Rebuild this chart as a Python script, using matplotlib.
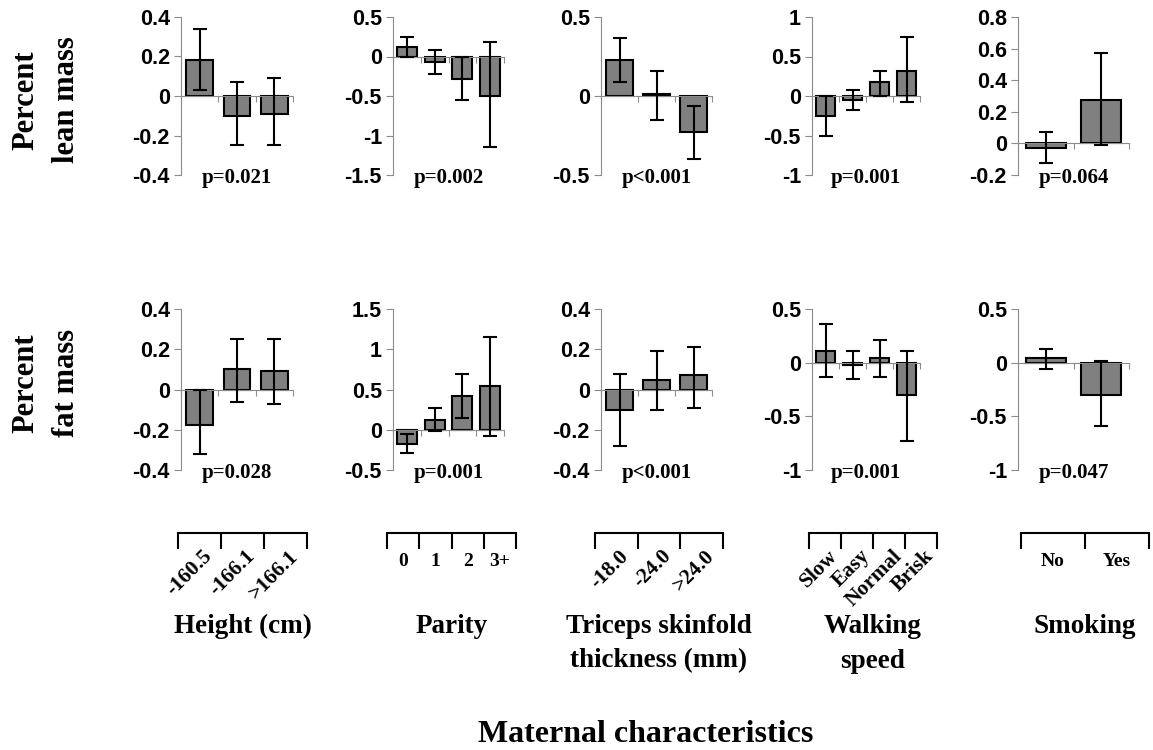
import numpy as np
import matplotlib
matplotlib.use('Agg')
from matplotlib import pyplot as plt

# groups (columns) and their categories
groups = ['Height (cm)', 'Parity', 'Triceps skinfold\nthickness (mm)', 'Walking\nspeed', 'Smoking']
cats = [['-160.5', '-166.1', '>166.1'],
        ['0', '1', '2', '3+'],
        ['-18.0', '-24.0', '>24.0'],
        ['Slow', 'Easy', 'Normal', 'Brisk'],
        ['No', 'Yes']]
rotated = [True, False, True, True, False]

# percent lean mass: estimate, lower and upper CI
lean_val = [[0.18, -0.10, -0.09], [0.12, -0.07, -0.28, -0.50], [0.225, 0.01, -0.23],
            [-0.25, -0.05, 0.18, 0.32], [-0.03, 0.275]]
lean_lo = [[0.03, -0.25, -0.25], [0.0, -0.225, -0.55, -1.15], [0.09, -0.15, -0.40],
           [-0.50, -0.18, 0.0, -0.07], [-0.125, -0.01]]
lean_hi = [[0.34, 0.07, 0.09], [0.25, 0.08, 0.0, 0.18], [0.37, 0.16, -0.065],
           [0.0, 0.08, 0.32, 0.75], [0.075, 0.575]]
lean_p = ['p=0.021', 'p=0.002', 'p<0.001', 'p=0.001', 'p=0.064']
lean_ylim = [(-0.4, 0.4), (-1.5, 0.5), (-0.5, 0.5), (-1, 1), (-0.2, 0.8)]
lean_step = [0.2, 0.5, 0.5, 0.5, 0.2]

# percent fat mass
fat_val = [[-0.175, 0.10, 0.09], [-0.175, 0.12, 0.42, 0.54], [-0.10, 0.045, 0.07],
           [0.11, -0.02, 0.04, -0.30], [0.04, -0.30]]
fat_lo = [[-0.32, -0.06, -0.07], [-0.29, -0.02, 0.14, -0.08], [-0.28, -0.10, -0.09],
          [-0.13, -0.15, -0.13, -0.73], [-0.055, -0.59]]
fat_hi = [[0.0, 0.25, 0.25], [-0.05, 0.265, 0.69, 1.15], [0.075, 0.19, 0.21],
          [0.36, 0.11, 0.21, 0.11], [0.125, 0.02]]
fat_p = ['p=0.028', 'p=0.001', 'p<0.001', 'p=0.001', 'p=0.047']
fat_ylim = [(-0.4, 0.4), (-0.5, 1.5), (-0.4, 0.4), (-1, 0.5), (-1, 0.5)]
fat_step = [0.2, 0.5, 0.2, 0.5, 0.5]

W, H = 1153, 750
serif = 'Liberation Serif'
sans = 'Liberation Sans'

fig = plt.figure(figsize=(W / 100, H / 100), dpi=100)


def px_axes(x0, y0, x1, y1):
    return fig.add_axes([x0 / W, 1 - y1 / H, (x1 - x0) / W, (y1 - y0) / H])


ax_x = [(181, 293), (393, 504), (601, 712), (812, 920), (1018, 1129)]
rows = [((17, 175), lean_val, lean_lo, lean_hi, lean_p, lean_ylim, lean_step),
        ((309, 470), fat_val, fat_lo, fat_hi, fat_p, fat_ylim, fat_step)]

for (y0, y1), vals, los, his, ps, ylims, steps in rows:
    for j in range(5):
        ax = px_axes(ax_x[j][0], y0, ax_x[j][1], y1)
        v = np.array(vals[j])
        n = len(v)
        x = np.arange(n)
        err = [v - np.array(los[j]), np.array(his[j]) - v]
        ax.bar(x, v, width=0.72, color='#808080', edgecolor='black', linewidth=1.5, zorder=2)
        ax.errorbar(x, v, yerr=err, fmt='none', ecolor='black', elinewidth=1.5,
                    capsize=5, capthick=1.5, zorder=3)
        ax.set_xlim(-0.5, n - 0.5)
        lo, hi = ylims[j]
        ax.set_ylim(lo, hi)
        ax.set_yticks(np.arange(lo, hi + 1e-9, steps[j]))
        ax.set_yticklabels(['%g' % round(t, 2) for t in ax.get_yticks()])
        for s in ['top', 'right']:
            ax.spines[s].set_visible(False)
        ax.spines['left'].set_color('#8c8c8c')
        ax.spines['bottom'].set_color('#8c8c8c')
        ax.spines['bottom'].set_position(('data', 0))
        ax.set_xticks(np.arange(n + 1) - 0.5)
        ax.set_xticklabels([])
        ax.tick_params(axis='x', direction='out', length=4, color='#8c8c8c')
        ax.tick_params(axis='y', direction='out', length=5, color='#8c8c8c', pad=3)
        for t in ax.get_yticklabels():
            t.set_fontfamily(sans)
            t.set_fontweight('bold')
            t.set_fontsize(15.5)
        ax.patch.set_alpha(0)
        ax.text(0.5, -0.02, ps[j], transform=ax.transAxes, ha='center', va='center',
                fontfamily=serif, fontweight='bold', fontsize=15)

# row labels
fig.text(46 / W, 1 - 100 / H, 'Percent\nlean mass', rotation=90, ha='center', va='center',
         fontfamily=serif, fontweight='bold', fontsize=22, linespacing=1.55)
fig.text(46 / W, 1 - 383 / H, 'Percent\nfat mass', rotation=90, ha='center', va='center',
         fontfamily=serif, fontweight='bold', fontsize=22, linespacing=1.55)

# category brackets
br_x = [(178, 307), (387, 516), (595, 723), (809, 937), (1021, 1149)]
for j in range(5):
    bx = px_axes(br_x[j][0], 533, br_x[j][1], 549)
    n = len(cats[j])
    bx.set_xlim(0, n)
    bx.set_ylim(0, 1)
    for s in ['left', 'right', 'bottom']:
        bx.spines[s].set_visible(False)
    bx.spines['top'].set_linewidth(1.5)
    bx.set_xticks(np.arange(n + 1))
    bx.set_xticklabels([])
    bx.set_yticks([])
    bx.tick_params(axis='x', top=True, bottom=False, direction='in', length=11.5, width=1.5)
    bx.patch.set_alpha(0)
    for i, c in enumerate(cats[j]):
        if rotated[j]:
            bx.annotate(c, xy=(i + 0.5, 0), xycoords=('data', 'axes fraction'),
                        xytext=(7, -3), textcoords='offset points', rotation=45,
                        rotation_mode='anchor', ha='right', va='center',
                        fontfamily=serif, fontweight='bold', fontsize=15.5)
        else:
            bx.annotate(c, xy=(i + 0.5, 0), xycoords=('data', 'axes fraction'),
                        xytext=(0, -9), textcoords='offset points', ha='center', va='center',
                        fontfamily=serif, fontweight='bold', fontsize=14)
    fig.text((br_x[j][0] + br_x[j][1]) / 2 / W, 1 - 614 / H, groups[j], ha='center', va='top',
             fontfamily=serif, fontweight='bold', fontsize=19.5, linespacing=1.5)

fig.text(646 / W, 1 - 735 / H, 'Maternal characteristics', ha='center', va='center',
         fontfamily=serif, fontweight='bold', fontsize=23)

fig.savefig('out.png', dpi=100, facecolor='white')
